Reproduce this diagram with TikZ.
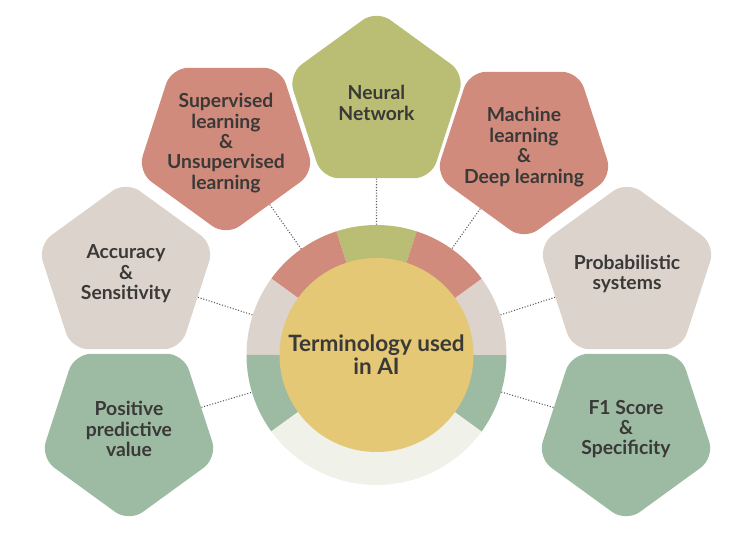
\documentclass[tikz,border=0pt]{standalone}
\usepackage{fontspec}
\setmainfont{Lato}
\usetikzlibrary{shapes.geometric}

\definecolor{petalred}{HTML}{D18B7D}
\definecolor{petalolive}{HTML}{B9BE74}
\definecolor{petalgrey}{HTML}{DCD4CC}
\definecolor{petalgreen}{HTML}{9DBBA3}
\definecolor{ringpale}{HTML}{F0F1E9}
\definecolor{coreyellow}{HTML}{E4C875}
\definecolor{inkgrey}{HTML}{3A3937}

\begin{document}
\begin{tikzpicture}[
      pent/.style={regular polygon, regular polygon sides=5, minimum size=3.72cm,
                   inner sep=-8pt, rounded corners=0.34cm, text=inkgrey, align=center,
                   font=\fontsize{11}{11.6}\selectfont\bfseries},
      pentdown/.style={pent, shape border rotate=180},
      link/.style={densely dotted, line width=0.6pt, black!65}]

    \useasboundingbox (-7.53,-3.76) rectangle (7.51,7.10);

    % ring segments round the core
    \fill[petalolive] (0,0) -- (72:2.6)  arc[start angle=72,  end angle=108, radius=2.6] -- cycle;
    \fill[petalred]   (0,0) -- (108:2.6) arc[start angle=108, end angle=144, radius=2.6] -- cycle;
    \fill[petalgrey]  (0,0) -- (144:2.6) arc[start angle=144, end angle=180, radius=2.6] -- cycle;
    \fill[petalgreen] (0,0) -- (180:2.6) arc[start angle=180, end angle=216, radius=2.6] -- cycle;
    \fill[ringpale]   (0,0) -- (216:2.6) arc[start angle=216, end angle=324, radius=2.6] -- cycle;
    \fill[petalgreen] (0,0) -- (324:2.6) arc[start angle=324, end angle=360, radius=2.6] -- cycle;
    \fill[petalgrey]  (0,0) -- (0:2.6)   arc[start angle=0,   end angle=36,  radius=2.6] -- cycle;
    \fill[petalred]   (0,0) -- (36:2.6)  arc[start angle=36,  end angle=72,  radius=2.6] -- cycle;

    \node[circle, minimum size=5.2cm, inner sep=0pt, outer sep=0pt] (ring) at (0,0) {};
    \node[circle, fill=coreyellow, minimum size=3.88cm, inner sep=0pt, text=inkgrey,
          align=center, font=\fontsize{12.8}{13.2}\selectfont\bfseries] (core) at (0,0)
      {Terminology used\\in AI};

    % petals
    \node[pent, fill=petalolive]     (neural)   at (0, 5.04)      {Neural\\Network};
    \node[pentdown, fill=petalred]   (superv)   at (-3.01, 4.24)  {Supervised\\learning\\\&\\Unsupervised\\learning};
    \node[pentdown, fill=petalred]   (machine)  at (2.95, 4.16)   {Machine\\learning\\\&\\Deep learning};
    \node[pent, fill=petalgrey]      (accuracy) at (-5.01, 1.62)  {Accuracy\\\&\\Sensitivity};
    \node[pent, fill=petalgrey]      (probab)   at (5.01, 1.62)   {Probabilistic\\systems};
    \node[pentdown, fill=petalgreen] (ppv)      at (-4.95, -1.48) {Positive\\predictive\\value};
    \node[pentdown, fill=petalgreen] (fscore)   at (4.99, -1.48)  {F1 Score\\\&\\Specificity};

    % dotted links to the ring
    \draw[link] (neural)   -- (ring);
    \draw[link] (superv)   -- (ring);
    \draw[link] (machine)  -- (ring);
    \draw[link] (accuracy) -- (ring);
    \draw[link] (probab)   -- (ring);
    \draw[link] (ppv)      -- (ring);
    \draw[link] (fscore)   -- (ring);

    \end{tikzpicture}
\end{document}
